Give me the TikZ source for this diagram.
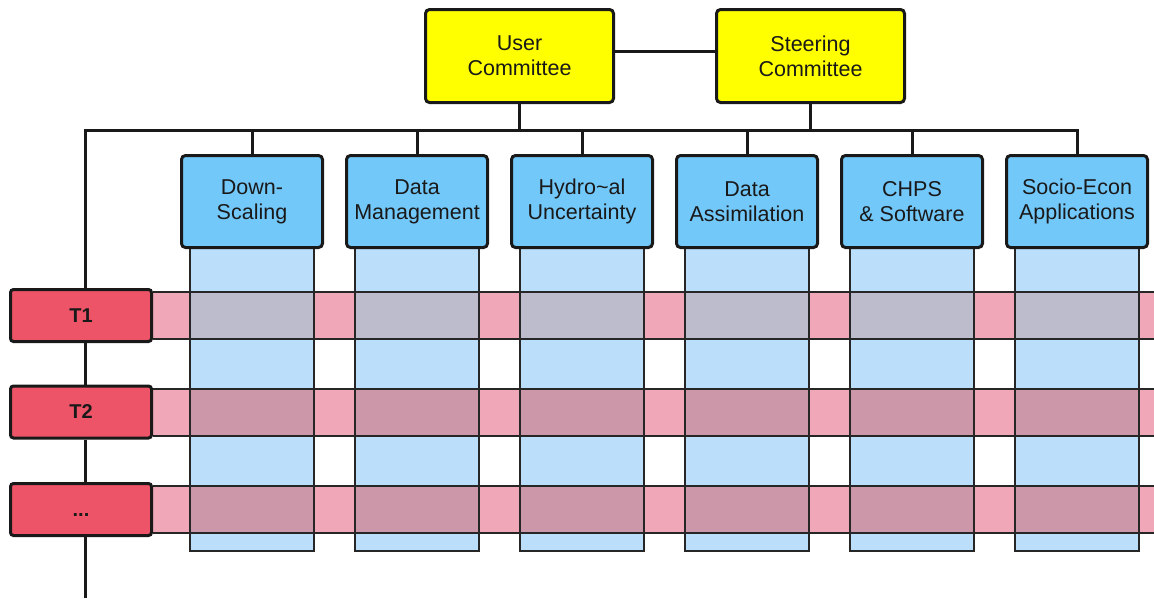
\documentclass[tikz,border=0pt]{standalone}
\usepackage{fontspec}
\setmainfont{Liberation Sans}
\usetikzlibrary{calc}
\pgfdeclarelayer{background}
\pgfsetlayers{background,main}
\definecolor{ybox}{RGB}{255,255,0}
\definecolor{bbox}{RGB}{115,200,250}
\definecolor{rbox}{RGB}{238,84,104}
\definecolor{colfill}{RGB}{187,222,251}
\definecolor{rowfill}{RGB}{240,168,184}
\definecolor{ovA}{RGB}{188,188,204}
\definecolor{ovB}{RGB}{204,151,168}
\begin{document}
\begin{tikzpicture}[x=1pt,y=-1pt,
  box/.style={draw=black!90, line width=3pt, rounded corners=4pt, align=center, inner sep=0pt,
    font=\fontsize{21.5}{25}\selectfont, text=black!90},
  committee/.style={box, fill=ybox, minimum width=188pt, minimum height=93pt},
  wp/.style={box, fill=bbox, minimum width=141pt, minimum height=92pt},
  task/.style={box, fill=rbox, minimum width=141pt, minimum height=52pt, rounded corners=3pt,
    font=\bfseries\fontsize{20}{22}\selectfont},
  link/.style={line width=3pt, draw=black!90},
  gridline/.style={line width=2pt, draw=black!85}]
\useasboundingbox (0,0) rectangle (1154,598);

% nodes
\node[committee] (user) at (519.5,56) {User\\Committee};
\node[committee] (steer) at (810.5,56) {Steering\\Committee};
\node[wp] (ds) at (252,201.5) {Down-\\Scaling};
\node[wp] (dm) at (417,201.5) {Data\\Management};
\node[wp] (hu) at (582,201.5) {Hydro\textasciitilde al\\Uncertainty};
\node[wp] (da) at (747,201.5) {Data\\Assimilation};
\node[wp] (cs) at (912,201.5) {CHPS\\\& Software};
\node[wp] (se) at (1077,201.5) {Socio-Econ\\Applications};
\node[task] (t1) at (81,315.5) {T1};
\node[task] (t2) at (81,412) {T2};
\node[task] (t3) at (81,509.5) {\vphantom{T}...};

\coordinate (busL) at (85,130);
\coordinate (busR) at (1077,130);
\coordinate (bottom) at (85,598);

% grid of work packages and tasks
\begin{pgfonlayer}{background}
  \foreach \n in {ds,dm,hu,da,cs,se}
    \fill[colfill] ($(\n.south)+(-62,0)$) rectangle ++(124,301.5);
  \foreach \t in {t1,t2,t3}
    \fill[rowfill] ($(\t.east)+(0,-23.5)$) rectangle ++(1002.5,47);
  \foreach \n in {ds,dm,hu,da,cs,se}{
    \fill[ovA] ($(\n.south |- t1.east)+(-62,-23.5)$) rectangle ++(124,47);
    \fill[ovB] ($(\n.south |- t2.east)+(-62,-23.5)$) rectangle ++(124,47);
    \fill[ovB] ($(\n.south |- t3.east)+(-62,-23.5)$) rectangle ++(124,47);
  }
  \foreach \t in {t1,t2,t3}{
    \draw[gridline] ($(\t.east)+(0,-23.5)$) -- ++(1002.5,0);
    \draw[gridline] ($(\t.east)+(0,23.5)$) -- ++(1002.5,0);
  }
  \foreach \n in {ds,dm,hu,da,cs,se}
    \draw[gridline] ($(\n.south)+(-62,0)$) -- ++(0,301.5) -- ++(124,0) -- ++(0,-301.5);
\end{pgfonlayer}

% connectors
\draw[link] ([yshift=5pt]user.east) -- ([yshift=5pt]steer.west);
\draw[link] (user.south) -- (user.south |- busL);
\draw[link] (steer.south) -- (steer.south |- busL);
\draw[link] (t1.north -| busL) -- (busL) -- (busR) -- (se.north);
\foreach \n in {ds,dm,hu,da,cs}
  \draw[link] (\n.north) -- (\n.north |- busL);
\draw[link] (t1.south -| busL) -- (t2.north -| busL);
\draw[link] (t2.south -| busL) -- (t3.north -| busL);
\draw[link] (t3.south -| busL) -- (bottom);
\end{tikzpicture}
\end{document}
